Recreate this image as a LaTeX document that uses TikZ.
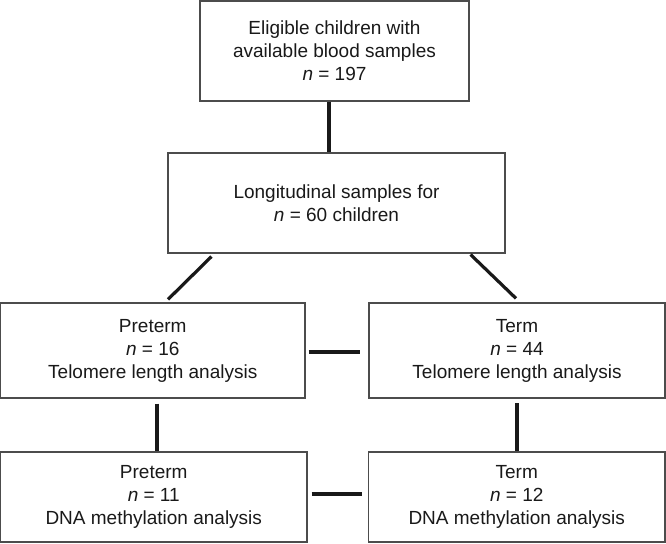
\documentclass[tikz,border=0pt]{standalone}
\usepackage{fontspec}
\setmainfont{Liberation Sans}
\begin{document}
\begin{tikzpicture}[x=1pt,y=-1pt,
  box/.style={draw=black!70, line width=1.2pt, rectangle, inner sep=0pt, align=center,
    font=\fontsize{19}{23}\selectfont, text=black!90},
  conn/.style={line width=3.2pt, black!90}]
\useasboundingbox (0,0) rectangle (666,543);
\node[box, minimum width=269pt, minimum height=100pt] (b1) at (334.5,51)
  {Eligible children with\\available blood samples\\\textit{n} = 197};
\node[box, minimum width=337pt, minimum height=100pt] (b2) at (336.5,203)
  {Longitudinal samples for\\\textit{n} = 60 children};
\node[box, minimum width=304.5pt, minimum height=95pt] (b3) at (152.75,350.5)
  {Preterm\\\textit{n} = 16\\Telomere length analysis};
\node[box, minimum width=296pt, minimum height=95pt] (b4) at (517,350.5)
  {Term\\\textit{n} = 44\\Telomere length analysis};
\node[box, minimum width=306.5pt, minimum height=90pt] (b5) at (153.75,497)
  {Preterm\\\textit{n} = 11\\DNA methylation analysis};
\node[box, minimum width=296.5pt, minimum height=90pt] (b6) at (516.75,497)
  {Term\\\textit{n} = 12\\DNA methylation analysis};
% connectors
\draw[conn] ([xshift=-5.5pt]b1.south) -- ([xshift=-7.5pt]b2.north);
\draw[conn] ([xshift=44pt,yshift=-3pt]b2.south west) -- ([xshift=15.25pt,yshift=3pt]b3.north);
\draw[conn] ([xshift=-35pt,yshift=-1pt]b2.south east) -- ([xshift=-1pt,yshift=4pt]b4.north);
\draw[conn] ([xshift=3pt,yshift=-1.5pt]b3.east) -- ([xshift=-8pt,yshift=-1.5pt]b4.west);
\draw[conn] ([xshift=4pt,yshift=3pt]b5.east) -- ([xshift=-5.5pt,yshift=3pt]b6.west);
\draw[conn] ([xshift=4.25pt,yshift=-5pt]b3.south) -- ([xshift=3.25pt]b5.north);
\draw[conn] ([yshift=-4.5pt]b4.south) -- ([xshift=0.25pt]b6.north);
\end{tikzpicture}
\end{document}
